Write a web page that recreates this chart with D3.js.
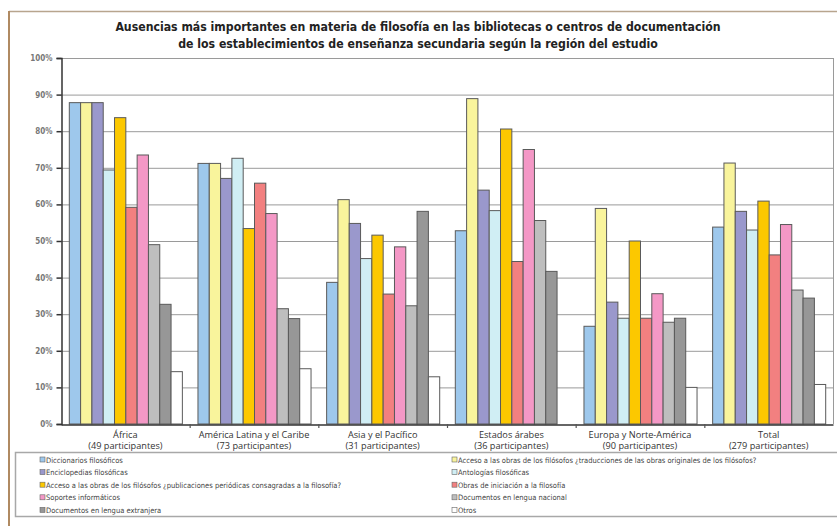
<!DOCTYPE html>
<html><head><meta charset="utf-8">
<script src="https://cdn.jsdelivr.net/npm/d3@7"></script>
<style>
html,body{margin:0;padding:0;background:#fff;}
svg{display:block;}
</style></head>
<body>
<script>
const title = [
  "Ausencias más importantes en materia de filosofía en las bibliotecas o centros de documentación",
  "de los establecimientos de enseñanza secundaria según la región del estudio"
];
const regions = ["África","América Latina y el Caribe","Asia y el Pacífico","Estados árabes","Europa y Norte-América","Total"];
const participants = ["(49 participantes)","(73 participantes)","(31 participantes)","(36 participantes)","(90 participantes)","(279 participantes)"];
const seriesNames = [
  "Diccionarios filosóficos",
  "Acceso a las obras de los filósofos ¿traducciones de las obras originales de los filósofos?",
  "Enciclopedias filosóficas",
  "Antologías filosóficas",
  "Acceso a las obras de los filósofos ¿publicaciones periódicas consagradas a la filosofía?",
  "Obras de iniciación a la filosofía",
  "Soportes informáticos",
  "Documentos en lengua nacional",
  "Documentos en lengua extranjera",
  "Otros"
];
const colors = ["#9ec8ec","#f9f49c","#9a98cc","#d0eef4","#fcc800","#f28080","#f498c6","#bebebe","#979797","#ffffff"];
// values per region, in series order (percent)
const africa   = [87.8, 87.8, 87.8, 69.4, 83.7, 59.2, 73.5, 49.0, 32.7, 14.3];
const america  = [71.2, 71.2, 67.1, 72.6, 53.4, 65.8, 57.5, 31.5, 28.8, 15.1];
const asia     = [38.7, 61.3, 54.8, 45.2, 51.6, 35.5, 48.4, 32.3, 58.1, 12.9];
const arab     = [52.8, 88.9, 63.9, 58.3, 80.6, 44.4, 75.0, 55.6, 41.7, 0];
const europe   = [26.7, 58.9, 33.3, 28.9, 50.0, 28.9, 35.6, 27.8, 28.9, 10.0];
const total    = [53.8, 71.3, 58.1, 53.0, 60.9, 46.2, 54.5, 36.6, 34.4, 10.8];
const values = [africa, america, asia, arab, europe, total];
const yTicks = [0,10,20,30,40,50,60,70,80,90,100];

const W = 837, H = 526;
const svg = d3.select("body").append("svg").attr("width", W).attr("height", H);

// outer frame lines
svg.append("line").attr("x1",9).attr("x2",W).attr("y1",11.5).attr("y2",11.5).attr("stroke","#b8a58e").attr("stroke-width",1.5);
svg.append("line").attr("x1",9).attr("x2",9).attr("y1",11).attr("y2",H).attr("stroke","#b08a62").attr("stroke-width",2);

// title
svg.append("g").selectAll("text").data(title).join("text")
  .attr("x", 418).attr("y", (d,i)=>31 + i*17)
  .attr("text-anchor","middle")
  .attr("font-family","'DejaVu Sans Condensed',sans-serif")
  .attr("font-weight","bold").attr("font-size",12.2).attr("fill","#222")
  .text(d=>d);

const x0 = d3.scaleBand().domain(regions).range([61, 833]).paddingInner(0).paddingOuter(0);
const x1 = d3.scaleBand().domain(d3.range(seriesNames.length)).range([0, x0.bandwidth()]).paddingInner(0).paddingOuter(0.69);
const y = d3.scaleLinear().domain([0,100]).range([424, 58]);

// gridlines
svg.append("g").selectAll("line").data(yTicks.filter(d=>d>0)).join("line")
  .attr("x1",61).attr("x2",833).attr("y1",d=>y(d)+0.5).attr("y2",d=>y(d)+0.5)
  .attr("stroke","#9a9a9a").attr("stroke-width",1);
// right border of plot
svg.append("line").attr("x1",833.5).attr("x2",833.5).attr("y1",y(100)).attr("y2",y(0)).attr("stroke","#9a9a9a");

// bars
const groups = svg.append("g").selectAll("g").data(regions).join("g")
  .attr("transform", d=>`translate(${x0(d)},0)`);
groups.selectAll("rect").data((d,i)=>values[i].map((v,j)=>({v,j})).filter(e=>e.v>0)).join("rect")
  .attr("x", d=>x1(d.j)+0.5).attr("width", x1.bandwidth())
  .attr("y", d=>y(d.v)).attr("height", d=>y(0)-y(d.v))
  .attr("fill", d=>colors[d.j]).attr("stroke","#5a5a5a").attr("stroke-width",1);

// y axis
const yAxis = d3.axisLeft(y).tickValues(yTicks).tickSize(5).tickFormat(d=>d+"%");
const gy = svg.append("g").attr("transform","translate(61.5,0)").call(yAxis);
gy.select(".domain").attr("stroke","#333").attr("stroke-width",1.5);
gy.selectAll(".tick line").attr("stroke","#333").attr("stroke-width",1.5);
gy.selectAll("text").attr("font-family","'DejaVu Sans Condensed',sans-serif").attr("font-weight","bold")
  .attr("font-size",8).attr("fill","#777").attr("x",-9);

// x axis
const xb = d3.axisBottom(x0).tickSize(0).tickFormat("");
const gx = svg.append("g").attr("transform",`translate(0,${y(0)+0.5})`).call(xb);
gx.select(".domain").attr("stroke","#333").attr("stroke-width",1.5);
// separators
svg.append("g").selectAll("line").data(regions.slice(1)).join("line")
  .attr("x1",d=>x0(d)+0.5).attr("x2",d=>x0(d)+0.5).attr("y1",y(0)).attr("y2",y(0)+4)
  .attr("stroke","#555").attr("stroke-width",1.2);

// x labels
const cx = d => x0(d)+x0.bandwidth()/2;
const lab = svg.append("g").selectAll("text").data(regions).join("text")
  .attr("x", cx).attr("y", 437.5)
  .attr("text-anchor","middle")
  .attr("font-family","'Open Sans',sans-serif").attr("font-size",9.2).attr("fill","#333");
lab.append("tspan").attr("x", cx).text(d=>d);
lab.append("tspan").attr("x", cx).attr("dy",11.5).text((d,i)=>participants[i]);

// legend
svg.append("rect").attr("x",15.5).attr("y",452.5).attr("width",830).attr("height",64)
  .attr("fill","#fff").attr("stroke","#a8a8a8").attr("stroke-width",1.5);
const leg = svg.append("g").selectAll("g").data(seriesNames).join("g")
  .attr("transform",(d,i)=>`translate(${i%2===0?40:452},${460 + Math.floor(i/2)*12.6})`);
leg.append("rect").attr("x",0).attr("y",-3).attr("width",5).attr("height",5)
  .attr("fill",(d,i)=>colors[i]).attr("stroke","#666").attr("stroke-width",0.6);
leg.append("text").attr("x",6).attr("y",2.5)
  .attr("font-family","'DejaVu Sans Condensed',sans-serif").attr("font-size",7.5).attr("fill","#444")
  .text(d=>d);
</script>
</body></html>
